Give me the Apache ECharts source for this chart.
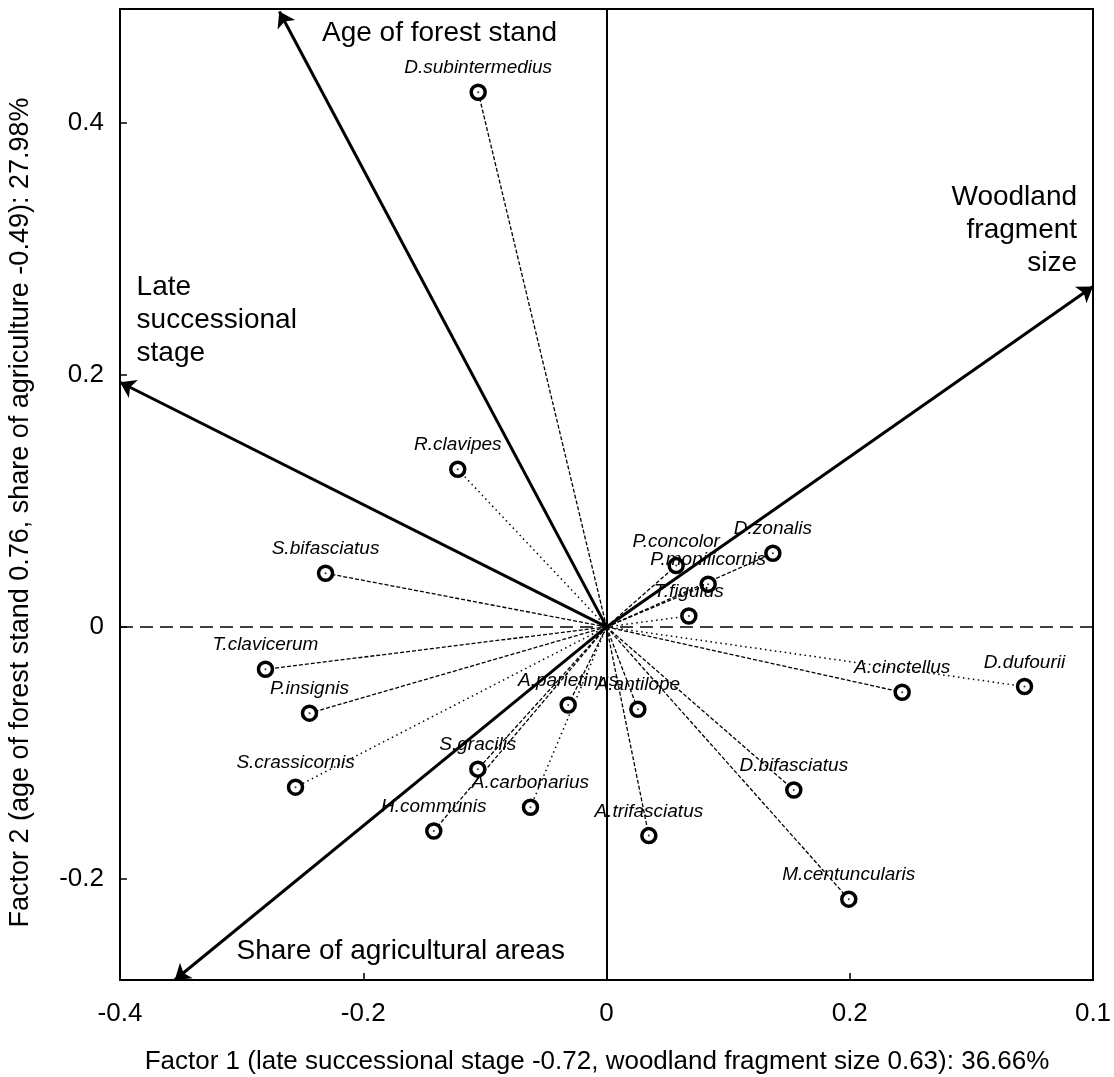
<!DOCTYPE html>
<html>
<head>
<meta charset="utf-8">
<script src="https://cdn.jsdelivr.net/npm/echarts@6/dist/echarts.min.js"></script>
<style>
html,body{margin:0;padding:0;background:#fff;}
#chart{width:1114px;height:1077px;}
</style>
</head>
<body>
<div id="chart"></div>
<script>
// ---- data ----
const speciesNames = ['D.subintermedius','R.clavipes','S.bifasciatus','T.clavicerum','P.insignis','S.crassicornis','H.communis','S.gracilis','A.carbonarius','A.parietinus','A.antilope','P.concolor','P.monilicornis','T.figulus','D.zonalis','A.cinctellus','D.dufourii','D.bifasciatus','A.trifasciatus','M.centuncularis'];
const speciesX = [-0.1055,-0.1223,-0.2310,-0.2804,-0.2442,-0.2557,-0.1420,-0.1058,-0.0625,-0.0315,0.0258,0.0573,0.0836,0.0677,0.1368,0.2431,0.3437,0.1540,0.0348,0.1992];
const speciesY = [0.4240,0.1250,0.0426,-0.0336,-0.0684,-0.1271,-0.1618,-0.1128,-0.1430,-0.0619,-0.0653,0.0486,0.0338,0.0087,0.0584,-0.0518,-0.0473,-0.1293,-0.1655,-0.2159];
const speciesLink = ['dash','dot','dash','dash','dash','dot','dash','dash','dot','dash','dash','dash','dash','dot','dash','dash','dot','dash','dash','dash'];

const vectorNames = ['Age of forest stand','Late successional stage','Woodland fragment size','Share of agricultural areas'];
const vectorX = [-0.269,-0.400,0.400,-0.355];
const vectorY = [0.488,0.194,0.270,-0.280];

const vectorLabelText = ['Age of forest stand','Late\nsuccessional\nstage','Woodland\nfragment\nsize','Share of agricultural areas'];
const vectorLabelX = [-0.1373,-0.3868,0.3873,-0.3046];
const vectorLabelY = [0.4711,0.2435,0.3144,-0.2569];
const vectorLabelPos = ['inside','right','left','right'];

const xTickValues = [-0.4,-0.2,0,0.2,0.4];
const xTickLabels = ['-0.4','-0.2','0','0.2','0.1'];
const yTickValues = [-0.2,0,0.2,0.4];
const yTickLabels = ['-0.2','0','0.2','0.4'];

const xTitle = 'Factor 1 (late successional stage -0.72, woodland fragment size 0.63): 36.66%';
const yTitle = 'Factor 2 (age of forest stand 0.76, share of agriculture -0.49): 27.98%';

// ---- build ----
const FONT = '"Liberation Sans", Arial, sans-serif';
const dashLinks = [], dotLinks = [];
speciesNames.forEach((n,i)=>{
  const item = {coords:[[0,0],[speciesX[i],speciesY[i]]]};
  (speciesLink[i]==='dot'?dotLinks:dashLinks).push(item);
});
const points = speciesNames.map((n,i)=>({name:n,value:[speciesX[i],speciesY[i]]}));
const vectors = vectorNames.map((n,i)=>({name:n,coords:[[0,0],[vectorX[i],vectorY[i]]]}));
const vLabels = vectorLabelText.map((t,i)=>({
  value:[vectorLabelX[i],vectorLabelY[i]],
  label:{formatter:t, position:vectorLabelPos[i], distance:0, color:'#000', opacity:1,
         align: vectorLabelPos[i]==='right'?'left':(vectorLabelPos[i]==='left'?'right':'center')}
}));

const chart = echarts.init(document.getElementById('chart'), null, {renderer:'canvas'});
chart.setOption({
  backgroundColor:'#fff',
  animation:false,
  textStyle:{fontFamily:FONT},
  grid:{left:120,right:21,top:9,bottom:97,show:true,borderColor:'#000',borderWidth:2,
        containLabel:false,outerBoundsMode:'none'},
  xAxis:{
    type:'value',min:-0.4,max:0.4,
    splitLine:{show:false},
    axisLine:{show:false,onZero:false},
    axisTick:{show:true,inside:true,length:7,lineStyle:{color:'#000',width:1.5},customValues:xTickValues},
    axisLabel:{color:'#000',fontSize:26,fontFamily:FONT,margin:21,customValues:xTickValues,
      formatter:v=>{const k=xTickValues.findIndex(t=>Math.abs(t-v)<1e-9);return k>=0?xTickLabels[k]:'';}},
    name:xTitle,nameLocation:'middle',nameGap:69,
    nameTextStyle:{color:'#000',fontSize:26,fontFamily:FONT,padding:[0,19,0,0]}
  },
  yAxis:{
    type:'value',min:-0.28,max:0.49,
    splitLine:{show:false},
    axisLine:{show:false,onZero:false},
    axisTick:{show:true,inside:true,length:7,lineStyle:{color:'#000',width:1.5},customValues:yTickValues},
    axisLabel:{color:'#000',fontSize:26,fontFamily:FONT,margin:16,customValues:yTickValues,
      formatter:v=>{const k=yTickValues.findIndex(t=>Math.abs(t-v)<1e-9);return k>=0?yTickLabels[k]:'';}},
    name:yTitle,nameLocation:'middle',nameGap:86,
    nameTextStyle:{color:'#000',fontSize:27,fontFamily:FONT,padding:[0,36,0,0]}
  },
  series:[
    {type:'lines',coordinateSystem:'cartesian2d',silent:true,z:2,
     lineStyle:{color:'#000',width:1.3,type:[4,2],opacity:1},data:dashLinks,
     markLine:{silent:true,symbol:['none','none'],label:{show:false},
       data:[{xAxis:0,lineStyle:{color:'#000',width:2,type:'solid'}},
             {yAxis:0,lineStyle:{color:'#000',width:1.5,type:[13,7]}}]}},
    {type:'lines',coordinateSystem:'cartesian2d',silent:true,z:2,
     lineStyle:{color:'#000',width:1.5,type:[1.5,3.5],opacity:1},data:dotLinks},
    {type:'lines',coordinateSystem:'cartesian2d',silent:true,z:3,clip:false,
     symbol:['none','arrow'],symbolSize:[0,15],
     lineStyle:{color:'#000',width:3,opacity:1,type:'solid'},data:vectors},
    {type:'scatter',z:5,symbol:'circle',symbolSize:14,
     itemStyle:{color:'#fff',borderColor:'#000',borderWidth:3.5,opacity:1},
     label:{show:true,position:'top',distance:6,formatter:'{b}',color:'#000',
            fontSize:19,fontStyle:'italic',fontFamily:FONT},
     data:points},
    {type:'scatter',z:6,symbol:'circle',symbolSize:2,silent:true,
     itemStyle:{color:'#000'},data:points.map(p=>p.value)},
    {type:'scatter',z:7,symbol:'circle',symbolSize:1,silent:true,
     itemStyle:{color:'rgba(255,255,255,0)',opacity:1},
     label:{show:true,color:'#000',opacity:1,fontSize:28,fontFamily:FONT,lineHeight:33},
     data:vLabels}
  ]
});
</script>
</body>
</html>
